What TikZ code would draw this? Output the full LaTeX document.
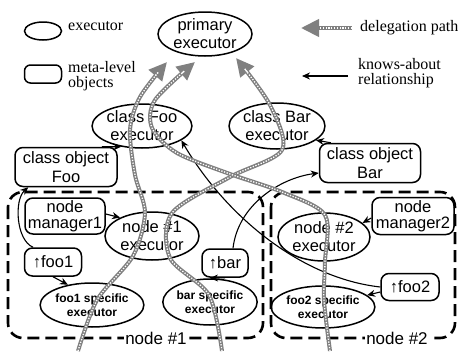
\documentclass[tikz,border=0pt]{standalone}
\usepackage{fontspec}
\setmainfont{Liberation Serif}
\setsansfont{Liberation Sans}
\usetikzlibrary{arrows.meta,shapes.geometric}
\begin{document}
\begin{tikzpicture}[x=1pt,y=-1pt,
  execbox/.style={ellipse,draw,line width=1.5pt,inner sep=0pt,align=center,font=\sffamily\fontsize{16.5}{18}\selectfont},
  metabox/.style={rectangle,rounded corners=8pt,draw,line width=1.5pt,inner sep=0pt,align=center,font=\sffamily\fontsize{16.5}{19}\selectfont},
  specbox/.style={execbox,font=\sffamily\bfseries\fontsize{12}{14}\selectfont},
  knowarrow/.style={line width=1.1pt,-{Stealth[length=8pt,width=7pt]}},
  delegpath/.style={line width=4pt,draw=black!50,-{Triangle[length=18pt,width=17pt]},
     postaction={draw=white,line width=1.3pt,dash pattern=on 1.3pt off 1.5pt,-,shorten >=18pt}},
  regionbox/.style={draw,line width=2.6pt,dash pattern=on 12pt off 6pt,rounded corners=15pt},
  legtext/.style={anchor=west,align=left,inner sep=0pt,font=\fontsize{16}{15.5}\selectfont},
  regionlabel/.style={fill=white,inner sep=1pt,font=\sffamily\fontsize{17}{17}\selectfont},
]
\useasboundingbox (0,0) rectangle (458,351);

% regions
\draw[regionbox] (8,192) rectangle (263,338);
\draw[regionbox] (271,192) rectangle (455,338);
\node[regionlabel] (lab1) at (156,338) {node \#1};
\node[regionlabel] (lab2) at (397,338) {node \#2};

% legend
\node[execbox,minimum width=37pt,minimum height=18pt] (legexec) at (43,31) {};
\node[legtext] (legexect) at (68,26) {executor};
\node[metabox,minimum width=37pt,minimum height=18pt,rounded corners=6pt] (legmeta) at (43,74) {};
\node[legtext] (legmetat) at (68,76) {meta-level\\objects};
\coordinate (legdA) at (352,28);
\coordinate (legdB) at (301,28);
\node[legtext] (legdelt) at (360,28) {delegation path};
\coordinate (legkA) at (348,76);
\coordinate (legkB) at (302,76);
\node[legtext] (legknowt) at (358,73) {knows-about\\relationship};

% executors and meta-level objects
\node[execbox,minimum width=94pt,minimum height=44pt] (prim) at (205,34) {primary\\executor};
\node[execbox,minimum width=92pt,minimum height=44pt] (cfoo) at (142,126) {class Foo\\executor};
\node[execbox,minimum width=90pt,minimum height=46pt] (cbar) at (277,126) {class Bar\\executor};
\node[metabox,minimum width=102pt,minimum height=39pt] (cobjfoo) at (66,167) {class object\\Foo};
\node[metabox,minimum width=101pt,minimum height=39pt] (cobjbar) at (370,163) {class object\\Bar};
\node[metabox,minimum width=80pt,minimum height=36pt,font=\sffamily\fontsize{16.5}{16}\selectfont] (nm1) at (65,216) {node\\manager1};
\node[execbox,minimum width=94pt,minimum height=48pt] (n1) at (152,236) {node \#1\\executor};
\node[metabox,minimum width=57pt,minimum height=28pt] (foo1ref) at (53,262) {↑foo1};
\node[specbox,minimum width=92pt,minimum height=44pt] (foo1x) at (92,305) {foo1 specific\\executor};
\node[metabox,minimum width=46pt,minimum height=28pt] (barref) at (225,263) {↑bar};
\node[specbox,minimum width=94pt,minimum height=46pt] (barx) at (210,302) {bar specific\\executor};
\node[execbox,minimum width=92pt,minimum height=48pt] (n2) at (324,237) {node \#2\\executor};
\node[metabox,minimum width=82pt,minimum height=37pt,font=\sffamily\fontsize{16.5}{16}\selectfont] (nm2) at (413,216) {node\\manager2};
\node[metabox,minimum width=58pt,minimum height=27pt] (foo2ref) at (410,287) {↑foo2};
\node[specbox,minimum width=92pt,minimum height=42pt] (foo2x) at (323,307) {foo2 specific\\executor};

% knows-about relationships
\draw[knowarrow] (legkA) -- (legkB);
\draw[knowarrow] ([xshift=-16pt]cobjfoo.north east) -- (cfoo.225);
\draw[knowarrow] ([xshift=-20pt]foo1ref.north) .. controls (16,240) and (14,200) .. ([xshift=14pt]cobjfoo.south west);
\draw[knowarrow] ([yshift=2pt]nm1.east) -- (n1.150);
\draw[knowarrow] (foo1ref.south) -- (foo1x.140);
\draw[knowarrow] (barref.south) -- (barx.north);
\draw[knowarrow] ([xshift=8pt]barref.north) .. controls (238,205) and (280,178) .. ([yshift=-10pt]cobjbar.west);
\draw[knowarrow] ([xshift=12pt]cobjbar.north west) -- (cbar.-20);
\draw[knowarrow] (foo2ref.west) .. controls (300,278) and (225,215) .. (cfoo.-20);
\draw[knowarrow] ([yshift=-5pt]foo2ref.west) -- (foo2x.15);
\draw[knowarrow] ([yshift=-2pt]nm2.west) -- (n2.20);

% delegation paths
\draw[delegpath] (legdA) -- (legdB);
\draw[delegpath] plot[smooth] coordinates {(78,351) (97,300) (133,256) (145,213) (135,175) (130,130) (140,97) (167,62)};
\draw[delegpath] plot[smooth] coordinates {(222,351) (209,295) (170,258) (172,213) (230,177) (282,150) (270,105) (236,58)};
\draw[delegpath] plot[smooth] coordinates {(330,351) (324,300) (325,262) (325,215) (282,192) (230,174) (177,153) (152,128) (155,100) (195,62)};
\end{tikzpicture}
\end{document}
